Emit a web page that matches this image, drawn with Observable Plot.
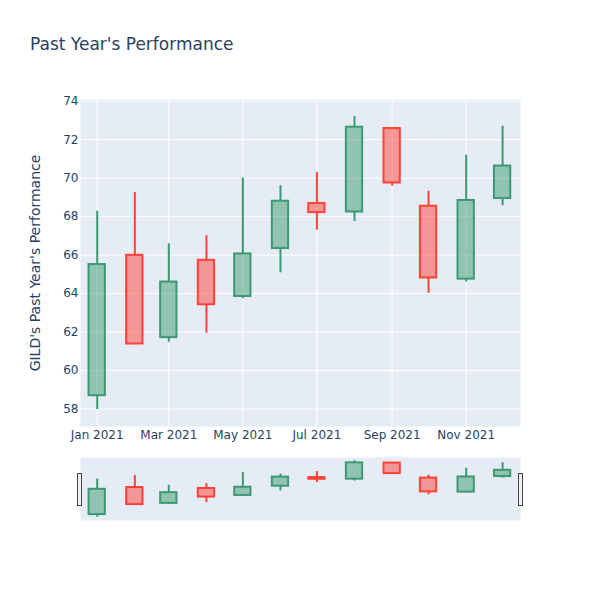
<!DOCTYPE html>
<html><head><meta charset="utf-8">
<script src="https://cdn.jsdelivr.net/npm/d3@7"></script>
<script src="https://cdn.jsdelivr.net/npm/@observablehq/plot@0.6"></script>
<style>
body{margin:0;background:#fff;}
#wrap{position:relative;width:600px;height:600px;font-family:"DejaVu Sans",sans-serif;color:#2a3f5f;overflow:hidden;}
#title{position:absolute;left:30px;top:34px;font-size:17px;line-height:20px;white-space:nowrap;}
.handle{position:absolute;width:3px;height:31px;background:#f2f2f2;border:1px solid #444;}
</style></head><body>
<div id="wrap"><div id="title">Past Year's Performance</div></div>
<script>
const months = ["2021-01-01","2021-02-01","2021-03-01","2021-04-01","2021-05-01","2021-06-01","2021-07-01","2021-08-01","2021-09-01","2021-10-01","2021-11-01","2021-12-01"];
const openVals  = [58.69, 65.99, 61.71, 65.73, 63.85, 66.34, 68.68, 68.24, 72.58, 68.54, 64.75, 68.94];
const highVals  = [68.28, 69.26, 66.59, 67.01, 70.01, 69.61, 70.30, 73.20, 72.61, 69.32, 71.19, 72.70];
const lowVals   = [57.97, 61.38, 61.47, 61.94, 63.73, 65.08, 67.30, 67.75, 69.59, 64.02, 64.60, 68.57];
const closeVals = [65.51, 61.38, 64.60, 63.42, 66.06, 68.80, 68.21, 72.65, 69.75, 64.81, 68.84, 70.63];
const yTicks = [58, 60, 62, 64, 66, 68, 70, 72, 74];
const xTickDates = ["2021-01-01","2021-03-01","2021-05-01","2021-07-01","2021-09-01","2021-11-01"];
const yTitle = "GILD's Past Year's Performance";

const incColor = "#3D9970", decColor = "#FF4136";
const data = months.map((m, i) => ({date: new Date(m), open: openVals[i], high: highVals[i], low: lowVals[i], close: closeVals[i]}));
const xTicks = xTickDates.map(d => new Date(d));
const xDomain = [new Date("2020-12-18T06:00:00Z"), new Date("2021-12-15T18:00:00Z")];
const yDomain = [57.09, 74.09];
const halfW = 161; // hours

function candleMarks() {
  const marks = [];
  for (const [filt, col] of [[d => d.close >= d.open, incColor], [d => d.close < d.open, decColor]]) {
    marks.push(
      Plot.ruleX(data, {filter: filt, x: "date", y1: d => Math.max(d.open, d.close), y2: "high", stroke: col, strokeWidth: 2}),
      Plot.ruleX(data, {filter: filt, x: "date", y1: d => Math.min(d.open, d.close), y2: "low", stroke: col, strokeWidth: 2}),
      Plot.rect(data, {filter: filt, x1: d => d3.utcHour.offset(d.date, -halfW), x2: d => d3.utcHour.offset(d.date, halfW),
        y1: "open", y2: "close", fill: col, fillOpacity: 0.5, stroke: col, strokeWidth: 2})
    );
  }
  return marks;
}

const wrap = document.getElementById("wrap");

const main = Plot.plot({
  width: 600, height: 460, marginTop: 99, marginBottom: 34, marginLeft: 80, marginRight: 80,
  style: {fontFamily: "DejaVu Sans", fontSize: "12px", color: "#2a3f5f", background: "transparent", overflow: "visible"},
  x: {type: "utc", domain: xDomain},
  y: {domain: yDomain},
  marks: [
    Plot.frame({fill: "#E5ECF6", stroke: "none"}),
    Plot.gridY(yTicks, {stroke: "#fff", strokeOpacity: 1, strokeWidth: 1}),
    Plot.gridX(xTicks, {stroke: "#fff", strokeOpacity: 1, strokeWidth: 1}),
    Plot.axisY(yTicks, {tickSize: 0, tickPadding: 2, label: null, fill: "#2a3f5f"}),
    Plot.axisX(xTicks, {tickSize: 0, tickPadding: 4, tickFormat: d3.utcFormat("%b %Y"), label: null, fill: "#2a3f5f"}),
    ...candleMarks(),
    Plot.text([yTitle], {frameAnchor: "left", textAnchor: "middle", lineAnchor: "middle", rotate: -90, dx: -45, fontSize: 14, fill: "#2a3f5f", text: d => d})
  ]
});
main.style.position = "absolute";
main.style.left = "0px";
main.style.top = "0px";
wrap.appendChild(main);

const slider = Plot.plot({
  width: 600, height: 63, marginTop: 0, marginBottom: 0, marginLeft: 80, marginRight: 80,
  style: {background: "transparent", overflow: "visible"},
  x: {type: "utc", domain: xDomain, axis: null},
  y: {domain: yDomain, axis: null},
  marks: [
    Plot.frame({fill: "#E5ECF6", stroke: "none"}),
    ...candleMarks()
  ]
});
slider.style.position = "absolute";
slider.style.left = "0px";
slider.style.top = "457px";
wrap.appendChild(slider);

for (const left of [77, 518]) {
  const h = document.createElement("div");
  h.className = "handle";
  h.style.left = left + "px";
  h.style.top = "473px";
  wrap.appendChild(h);
}
</script>
</body></html>
